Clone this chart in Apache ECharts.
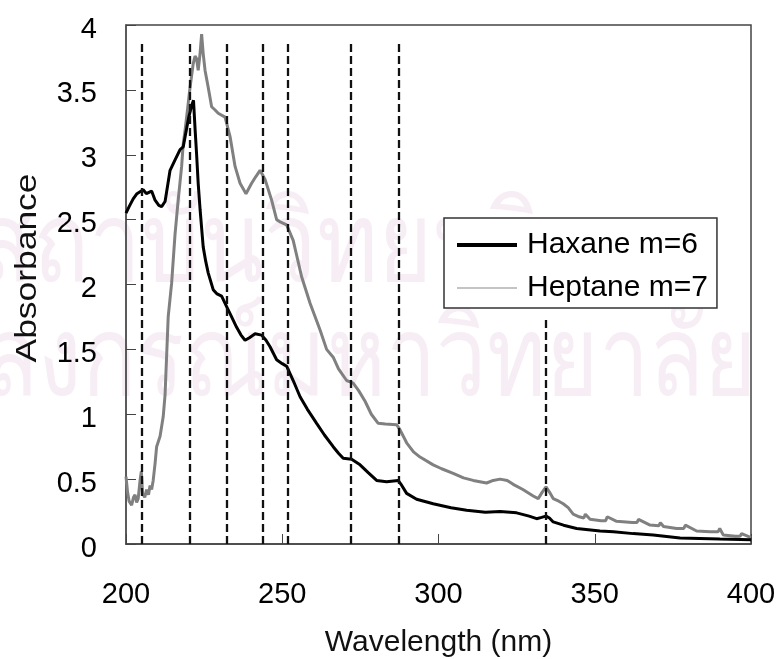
<!DOCTYPE html>
<html>
<head>
<meta charset="utf-8">
<script src="https://cdn.jsdelivr.net/npm/echarts@6/dist/echarts.min.js"></script>
<style>
  html, body { margin: 0; padding: 0; background: #fff; }
  #chart { width: 779px; height: 659px; }
</style>
</head>
<body>
<div id="chart"></div>
<script>
// Wavelength (nm) / absorbance pairs for each solvent
var hexWl = [200, 201, 202.3, 203.5, 205.5, 206.5, 207.1, 208.2, 209.3, 210.5, 211.4, 212.5, 213.3, 214.1, 215.7, 217.3, 218.3, 219, 220, 221, 221.6, 222.1, 222.6, 223.1, 223.7, 224.7, 225.5, 226.3, 227.9, 229, 230.6, 232.2, 233.8, 235.4, 236.8, 238.1, 239.5, 241.3, 243.4, 244.8, 246.1, 248.2, 250, 251.4, 253.5, 255.7, 258, 261, 263.5, 266.3, 268, 269.5, 272.2, 274.9, 277.5, 280.2, 283.4, 287.1, 288, 289.8, 293, 298.3, 304, 309, 315, 319.7, 325, 329, 331.4, 333, 334.4, 335.5, 336.7, 340, 344.2, 351.7, 356, 362.3, 368.7, 377.3, 390, 400];
var hexAbs = [2.55, 2.6, 2.66, 2.7, 2.73, 2.7, 2.69, 2.72, 2.65, 2.61, 2.6, 2.64, 2.76, 2.88, 2.96, 3.04, 3.06, 3.15, 3.28, 3.38, 3.42, 3.2, 3.0, 2.78, 2.58, 2.29, 2.18, 2.09, 1.96, 1.93, 1.91, 1.83, 1.75, 1.67, 1.61, 1.57, 1.59, 1.62, 1.61, 1.57, 1.52, 1.42, 1.39, 1.37, 1.26, 1.135, 1.04, 0.93, 0.84, 0.75, 0.7, 0.66, 0.653, 0.61, 0.55, 0.49, 0.48, 0.49, 0.46, 0.39, 0.345, 0.31, 0.28, 0.26, 0.245, 0.25, 0.24, 0.215, 0.195, 0.205, 0.215, 0.2, 0.17, 0.145, 0.12, 0.1, 0.095, 0.08, 0.07, 0.046, 0.038, 0.032];

var hepWl = [200, 200.5, 201, 201.8, 202.4, 202.9, 203.4, 203.9, 204.5, 204.9, 205.3, 206, 206.6, 207.2, 207.7, 208.2, 208.7, 209.3, 209.8, 210.9, 211.9, 212.5, 213, 213.5, 214.6, 215.7, 216.7, 217.8, 218.3, 218.9, 219.4, 220.5, 221.5, 222.1, 222.6, 223.1, 223.7, 224.2, 224.7, 225.3, 226.3, 227.4, 228.5, 229.5, 231.7, 233.3, 234.9, 236.5, 238.4, 240.2, 241.5, 242.9, 244.5, 246.6, 248.2, 249.5, 251.4, 253.5, 256.2, 258.9, 262.1, 264.2, 266.3, 268, 270.6, 272.7, 274.5, 276.5, 278.5, 280.7, 283, 286.6, 287.7, 289.8, 292, 294.1, 298.3, 301, 304.7, 308, 311.1, 315.4, 317.5, 319.7, 322, 323.9, 327, 330.3, 331.9, 333.2, 334.4, 335.5, 336.7, 338.5, 339.9, 341.5, 343.1, 345, 346.5, 347, 348.5, 352, 353.5, 354, 357, 362, 363.5, 364, 367.7, 370.5, 371, 372, 376.2, 378.5, 379, 382.6, 387, 389.5, 390, 391.1, 395, 396.5, 397, 400];
var hepAbs = [0.52, 0.4, 0.33, 0.3, 0.36, 0.38, 0.32, 0.35, 0.49, 0.56, 0.39, 0.36, 0.42, 0.38, 0.45, 0.42, 0.49, 0.62, 0.75, 0.83, 0.98, 1.15, 1.45, 1.75, 2.01, 2.39, 2.65, 2.91, 3.08, 3.19, 3.29, 3.52, 3.7, 3.76, 3.74, 3.65, 3.78, 3.93, 3.78, 3.65, 3.52, 3.37, 3.345, 3.32, 3.29, 3.14, 2.91, 2.78, 2.7, 2.78, 2.83, 2.88, 2.81, 2.65, 2.5, 2.48, 2.46, 2.34, 2.06, 1.855, 1.65, 1.5, 1.44, 1.35, 1.26, 1.24, 1.18, 1.1, 1.0, 0.93, 0.925, 0.92, 0.88, 0.78, 0.71, 0.67, 0.61, 0.58, 0.545, 0.51, 0.49, 0.47, 0.49, 0.5, 0.49, 0.46, 0.42, 0.37, 0.35, 0.4, 0.44, 0.4, 0.35, 0.33, 0.31, 0.28, 0.23, 0.21, 0.2, 0.23, 0.19, 0.18, 0.18, 0.21, 0.175, 0.165, 0.165, 0.19, 0.146, 0.14, 0.165, 0.135, 0.12, 0.12, 0.145, 0.1, 0.095, 0.095, 0.12, 0.07, 0.06, 0.06, 0.08, 0.05];

// Marked band positions (nm) and the absorbance where each dashed guide ends
var bandWl = [205, 220.5, 232.2, 243.7, 251.6, 271.9, 287.3, 334.4];
var bandTop = [3.86, 3.86, 3.86, 3.86, 3.86, 3.86, 3.86, 1.75];

var seriesNames = ['Haxane m=6', 'Heptane m=7'];
var xTitle = 'Wavelength (nm)';
var yTitle = 'Absorbance';
var stampLines = ['สถาบันวิทยบริการ', 'จุฬาลงกรณ์มหาวิทยาลัย'];

function pairs(xs, ys) {
  return xs.map(function (x, i) { return [x, ys[i]]; });
}

var bandLines = bandWl.map(function (w, i) {
  return [{ coord: [w, 0] }, { coord: [w, bandTop[i]] }];
});

var FONT = 'Liberation Sans, Arial, sans-serif';
var chart = echarts.init(document.getElementById('chart'), null, { renderer: 'canvas' });

chart.setOption({
  animation: false,
  backgroundColor: '#ffffff',
  grid: {
    left: 126, top: 25, right: 28, bottom: 115,
    outerBoundsMode: 'none', containLabel: false,
    show: true, borderColor: '#444', borderWidth: 1.5, backgroundColor: 'transparent'
  },
  graphic: [
    {
      type: 'text', z: -10, x: 700, y: 250, scaleX: 0.83, silent: true,
      style: { text: stampLines[0], fontSize: 112, fontFamily: 'sans-serif', fill: '#f6eef4', align: 'right', verticalAlign: 'middle' }
    },
    {
      type: 'text', z: -10, x: 757, y: 364, scaleX: 0.8, silent: true,
      style: { text: stampLines[1], fontSize: 112, fontFamily: 'sans-serif', fill: '#f6eef4', align: 'right', verticalAlign: 'middle' }
    },
    {
      type: 'text', x: 28, y: 268, rotation: Math.PI / 2, scaleX: 1.18, silent: true,
      style: {
        text: yTitle, fontSize: 30, fontFamily: FONT, fill: '#111',
        align: 'center', verticalAlign: 'middle'
      }
    }
  ],
  legend: {
    orient: 'vertical', left: 444, top: 218,
    backgroundColor: '#ffffff', borderColor: '#333', borderWidth: 1.5, borderRadius: 0,
    padding: [12, 9, 5, 13], itemGap: 13, itemWidth: 60, itemHeight: 30,
    textStyle: { fontSize: 30, fontFamily: FONT, color: '#000', padding: [0, 0, 0, 5] },
    data: [
      { name: seriesNames[0], icon: 'path://M0,13 L60,13 L60,17 L0,17 Z', itemStyle: { color: '#000' } },
      { name: seriesNames[1], icon: 'path://M0,14.4 L60,14.4 L60,15.6 L0,15.6 Z', itemStyle: { color: '#8a8a8a' } }
    ]
  },
  xAxis: {
    type: 'value', min: 200, max: 400, interval: 50,
    name: xTitle, nameLocation: 'middle', nameGap: 84,
    nameTextStyle: { fontSize: 30, fontFamily: FONT, color: '#111' },
    axisLine: { lineStyle: { color: '#444', width: 1.5 } },
    axisTick: { inside: true, length: 10, lineStyle: { color: '#444', width: 1 } },
    axisLabel: { margin: 36, fontSize: 29, fontFamily: FONT, color: '#000' },
    splitLine: { show: false }
  },
  yAxis: {
    type: 'value', min: 0, max: 4, interval: 0.5,
    axisLine: { show: true, lineStyle: { color: '#555', width: 1.5 } },
    axisTick: { show: true, inside: true, length: 10, lineStyle: { color: '#444', width: 1 } },
    axisLabel: {
      margin: 29, fontSize: 29, fontFamily: FONT, color: '#000',
      verticalAlign: 'top', lineHeight: 9
    },
    splitLine: { show: false }
  },
  series: [
    {
      name: seriesNames[1], type: 'line', data: pairs(hepWl, hepAbs),
      symbol: 'none', z: 3,
      lineStyle: { color: '#808080', width: 3 }, itemStyle: { color: '#808080' }
    },
    {
      name: seriesNames[0], type: 'line', data: pairs(hexWl, hexAbs),
      symbol: 'none', z: 4,
      lineStyle: { color: '#000', width: 3 }, itemStyle: { color: '#000' },
      markLine: {
        silent: true, symbol: ['none', 'none'], label: { show: false },
        lineStyle: { color: '#111', width: 2.3, type: [8, 4] },
        emphasis: { disabled: true },
        data: bandLines
      }
    }
  ]
});
</script>
</body>
</html>
